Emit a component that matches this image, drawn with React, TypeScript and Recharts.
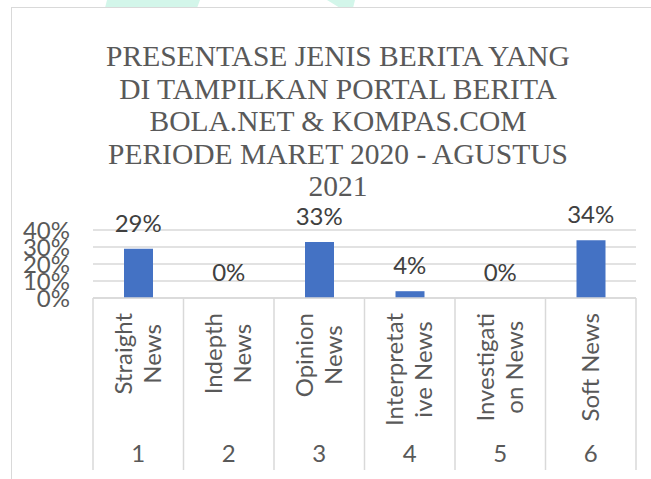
import { ComposedChart, Bar, Line, XAxis, YAxis, CartesianGrid, LabelList } from 'recharts';

// categories (level 1, wrapped as in the source) and group numbers (level 2)
const categories = ['Straight News', 'Indepth News', 'Opinion News', 'Interpretative News', 'Investigation News', 'Soft News'];
const categoryLines = [
  ['Straight', 'News'],
  ['Indepth', 'News'],
  ['Opinion', 'News'],
  ['Interpretat', 'ive News'],
  ['Investigati', 'on News'],
  ['Soft News'],
];
const groupLabels = ['1', '2', '3', '4', '5', '6'];
const shares = [0.29, 0, 0.33, 0.04, 0, 0.34];
const yTicks = [0, 0.1, 0.2, 0.3, 0.4];
const titleLines = [
  'PRESENTASE JENIS BERITA YANG',
  'DI TAMPILKAN PORTAL BERITA',
  'BOLA.NET & KOMPAS.COM',
  'PERIODE MARET 2020 - AGUSTUS',
  '2021',
];

const data = categories.map((name, i) => ({ name, value: shares[i] }));

const W = 651;
const H = 479;
const MARGIN = { top: 230, right: 15, bottom: 0, left: 0 };
const Y_W = 93;
const PLOT_W = W - MARGIN.left - MARGIN.right - Y_W;
const FONT = 'Lato, "Open Sans", sans-serif';
const FS = 24;

const pct = (v: number) => `${Math.round(v * 100)}%`;

let ctx: CanvasRenderingContext2D | null = null;
function textWidth(s: string) {
  if (!ctx) ctx = document.createElement('canvas').getContext('2d');
  if (!ctx) return s.length * FS * 0.45;
  ctx.font = `${FS}px Lato`;
  return ctx.measureText(s).width;
}

function CategoryTick(props: any) {
  const { x, y, payload, index } = props;
  const band = PLOT_W / categories.length;
  const lines = categoryLines[index] || [String(payload.value)];
  const maxLen = Math.max(...lines.map(textWidth));
  const top = y + 15;
  return (
    <g>
      <line x1={x - band / 2} x2={x - band / 2} y1={y} y2={y + 172} stroke="#d9d9d9" strokeWidth={1.5} />
      {index === categories.length - 1 && (
        <line x1={x + band / 2} x2={x + band / 2} y1={y} y2={y + 172} stroke="#d9d9d9" strokeWidth={1.5} />
      )}
      <g transform={`translate(${x}, ${top + maxLen / 2}) rotate(-90)`}>
        {lines.map((l, i) => (
          <text
            key={i}
            x={0}
            y={(i - (lines.length - 1) / 2) * 29.3 + 8}
            textAnchor="middle"
            fontFamily={FONT}
            fontSize={FS}
            fill="#595959"
          >
            {l}
          </text>
        ))}
      </g>
      <text x={x} y={y + 164} textAnchor="middle" fontFamily={FONT} fontSize={FS} fill="#595959">
        {groupLabels[index]}
      </text>
    </g>
  );
}

export default function App() {
  return (
    <div style={{ position: 'absolute', left: 0, top: 0, width: W, height: H, overflow: 'hidden', background: '#fff' }}>
      <svg width={W} height={10} style={{ position: 'absolute', left: 0, top: 0 }}>
        <polygon points="107,0 200,0 197,8 105,8" fill="#d3f6ea" />
        <polygon points="327,0 355,0 353,8 340,8" fill="#d3f6ea" />
      </svg>
      <div
        style={{
          position: 'absolute',
          left: 11,
          top: 7,
          width: 700,
          height: 520,
          border: '1.5px solid #d9d9d9',
        }}
      />
      <div
        style={{
          position: 'absolute',
          left: 38,
          width: 600,
          top: 40,
          textAlign: 'center',
          fontFamily: '"Liberation Serif", "Times New Roman", serif',
          fontSize: 29.5,
          lineHeight: '32.5px',
          color: '#595959',
          whiteSpace: 'nowrap',
        }}
      >
        {titleLines.map((t, i) => (
          <div key={i}>{t}</div>
        ))}
      </div>
      <div style={{ position: 'absolute', left: 0, top: 0 }}>
        <ComposedChart width={W} height={H} data={data} margin={MARGIN} barCategoryGap={0}>
          <CartesianGrid vertical={false} stroke="#d9d9d9" strokeWidth={1.5} />
          <XAxis
            dataKey="name"
            height={H - MARGIN.top - 68}
            axisLine={{ stroke: '#d9d9d9', strokeWidth: 1.5 }}
            tickLine={false}
            tickSize={0}
            tickMargin={0}
            interval={0}
            tick={(p: any) => <CategoryTick {...p} />}
          />
          <YAxis
            width={Y_W}
            domain={[0, 0.4]}
            ticks={yTicks}
            tickFormatter={pct}
            axisLine={false}
            tickLine={false}
            tickSize={0}
            tickMargin={23}
            tick={{ fontFamily: FONT, fontSize: FS, fill: '#595959' }}
            interval={0}
          />
          <Bar dataKey="value" fill="#4472c4" barSize={29} isAnimationActive={false} />
          {/* invisible series carrying the data labels, so that 0% values are labelled too */}
          <Line dataKey="value" stroke="none" dot={false} activeDot={false} isAnimationActive={false}>
            <LabelList
              dataKey="value"
              position="top"
              offset={17}
              formatter={(v: any) => pct(Number(v))}
              style={{ fontFamily: FONT, fontSize: FS, fill: '#404040' }}
            />
          </Line>
        </ComposedChart>
      </div>
    </div>
  );
}
